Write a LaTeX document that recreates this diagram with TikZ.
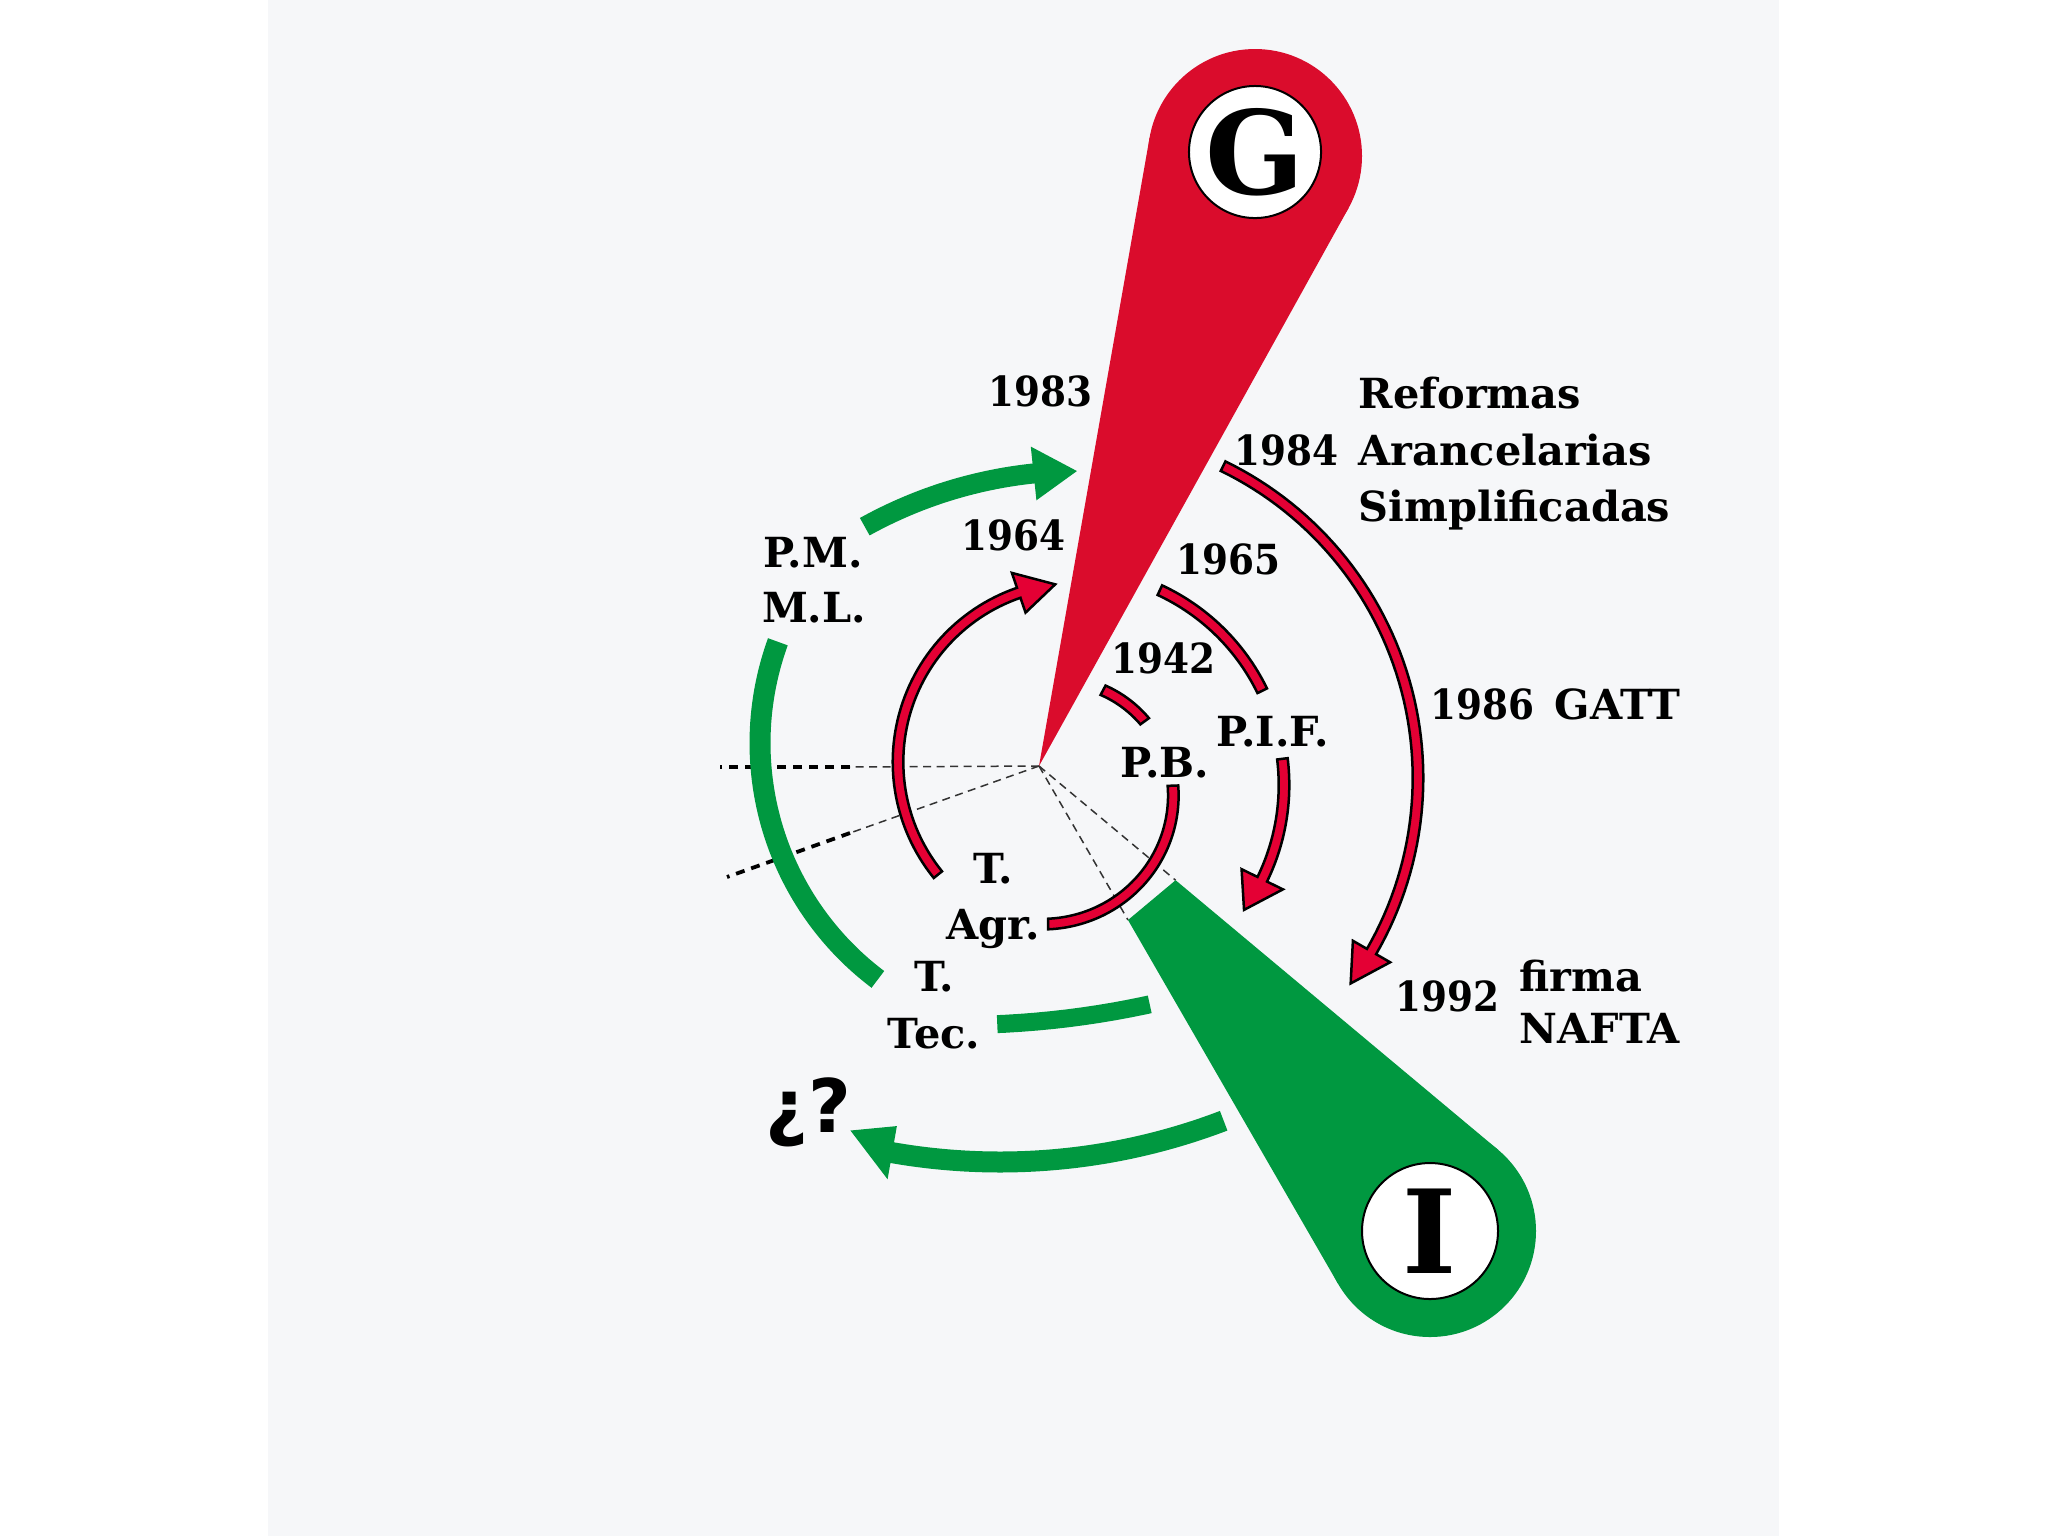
\documentclass[tikz,border=0pt]{standalone}
\usepackage{fontspec}
\setmainfont{DejaVu Serif}
\newfontfamily\numfont[FakeStretch=0.9]{DejaVu Serif}
\newfontfamily\qfont{DejaVu Sans}
\definecolor{gred}{RGB}{218,12,44}
\definecolor{rred}{RGB}{228,0,52}
\definecolor{ggreen}{RGB}{0,152,64}
\definecolor{panel}{RGB}{246,247,249}
\def\hH{20}\def\hD{10}\def\hE{0}
% ribbon along a (spiral) arc: style, cx, cy, r0, r1, a, b, half width
\newcommand{\rib}[8]{%
 \path[#1] plot[domain=#6:#7,samples=60,variable=\t] ({#2+(#4+(#5-#4)*(\t-(#6))/((#7)-(#6))+#8)*cos(\t)},{#3+(#4+(#5-#4)*(\t-(#6))/((#7)-(#6))+#8)*sin(\t)}) -- plot[domain=#7:#6,samples=60,variable=\t] ({#2+(#4+(#5-#4)*(\t-(#6))/((#7)-(#6))-#8)*cos(\t)},{#3+(#4+(#5-#4)*(\t-(#6))/((#7)-(#6))-#8)*sin(\t)}) -- cycle;}
\newcommand{\ribarrow}[8]{%
 \path[#1] plot[domain=#6:#7,samples=60,variable=\t] ({#2+(#4+(#5-#4)*(\t-(#6))/((#7)-(#6))+#8)*cos(\t)},{#3+(#4+(#5-#4)*(\t-(#6))/((#7)-(#6))+#8)*sin(\t)}) -- ({#2+(#5+\hH)*cos(#7)},{#3+(#5+\hH)*sin(#7)}) -- ({#2+(#5-\hE)*cos(#7+\hD)},{#3+(#5-\hE)*sin(#7+\hD)}) -- ({#2+(#5-\hH)*cos(#7)},{#3+(#5-\hH)*sin(#7)}) -- plot[domain=#7:#6,samples=60,variable=\t] ({#2+(#4+(#5-#4)*(\t-(#6))/((#7)-(#6))-#8)*cos(\t)},{#3+(#4+(#5-#4)*(\t-(#6))/((#7)-(#6))-#8)*sin(\t)}) -- cycle;}
\begin{document}
\begin{tikzpicture}[x=0.1mm,y=-0.1mm,
  lab/.style={font=\bfseries\fontsize{11.8}{14}\selectfont,inner sep=0pt},
  num/.style={font=\numfont\bfseries\fontsize{11.8}{14}\selectfont,inner sep=0pt},
  redrib/.style={fill=rred,draw=black,line width=0.25mm},
  greenrib/.style={fill=ggreen,draw=none},
  thindash/.style={draw=black!80,line width=0.15mm,dash pattern=on 0.8mm off 0.55mm},
  thickdash/.style={draw=black,line width=0.38mm,dash pattern=on 0.9mm off 0.7mm},
  badge/.style={circle,draw=black,line width=0.2mm,fill=white,inner sep=0pt,font=\bfseries\fontsize{33}{33}\selectfont}]
\useasboundingbox (0,0) rectangle (2048,1536);
\fill[white] (0,0) rectangle (2048,1536);
\fill[panel] (268,0) rectangle (1779,1536);
% dashed rays
\coordinate (ctr) at (1039,766);
\coordinate (d1m) at (850,767);
\coordinate (d1) at (720,767);
\coordinate (d2m) at (850,833);
\coordinate (d2) at (727,877);
\coordinate (d3) at (1128,920);
\coordinate (d4) at (1175.6,880.2);
\draw[thindash] (ctr) -- (d1m);
\draw[thickdash] (d1m) -- (d1);
\draw[thindash] (ctr) -- (d2m);
\draw[thickdash] (d2m) -- (d2);
\draw[thindash] (ctr) -- (d3);
\draw[thindash] (ctr) -- (d4);
% G wedge
\fill[gred] (ctr) -- (1149.6,137.5) -- (1348.6,207.9) -- cycle;
\fill[gred] (1255,156) circle[radius=107];
% I wedge
\fill[ggreen] (d3) -- (1338.2,1284) -- (1498,1149.7) -- (d4) -- cycle;
\fill[ggreen] (1430,1231) circle[radius=106];
% red spiral
\rib{redrib}{1050}{790}{113}{117}{-62}{-36}{5.3}
\rib{redrib}{1048}{790}{125}{134}{-2}{90}{5.3}
\def\hH{21}\def\hD{12}\def\hE{0}
\ribarrow{redrib}{1077}{762}{179}{179}{141}{251}{5.3}
\rib{redrib}{1069}{785}{215}{215}{-65}{-26}{5.3}
\def\hH{23}\def\hD{9.5}\def\hE{0}
\ribarrow{redrib}{1069}{785}{215}{215}{-7}{26}{5.3}
\def\hH{21.5}\def\hD{6.3}\def\hE{0}
\ribarrow{redrib}{1071}{778}{347}{347}{-64}{30}{5.3}
% green spiral
\rib{greenrib}{1056}{743}{296}{296}{127}{200}{10.5}
\def\hH{27}\def\hD{5.6}\def\hE{0}
\ribarrow{greenrib}{1080}{915}{444}{444}{241}{264}{10}
\rib{greenrib}{958}{125}{900}{900}{77.7}{87.5}{9}
\def\hH{27}\def\hD{4.2}\def\hE{13}
\ribarrow{greenrib}{1000}{535}{627}{627}{69.1}{99.9}{10.5}
% badges
\node[badge,minimum size=13mm] (G) at (1255,152) {G};
\node[badge,minimum size=13.6mm] (I) at (1430,1231) {I};
% labels
\node[num,anchor=base] (t1983) at (1040,406) {1983};
\node[num,anchor=base] (t1964) at (1013,550) {1964};
\node[lab,anchor=base] (tpm) at (813,567) {P.M.};
\node[lab,anchor=base] (tml) at (814,622) {M.L.};
\node[num,anchor=base] (t1942) at (1163,673) {1942};
\node[num,anchor=base] (t1965) at (1228,574) {1965};
\node[lab,anchor=base] (tpb) at (1165,777) {P.B.};
\node[lab,anchor=base] (tpif) at (1273,746) {P.I.F.};
\node[num,anchor=base] (t1984) at (1286,465) {1984};
\node[lab,anchor=base west] (tref) at (1358,408) {Reformas};
\node[lab,anchor=base west] (tara) at (1358,465) {Arancelarias};
\node[lab,anchor=base west] (tsim) at (1358,521) {Simplificadas};
\node[num,anchor=base west] (t1986) at (1430,719) {1986};
\node[lab,anchor=base west] (tgatt) at (1554,719) {GATT};
\node[num,anchor=base] (t1992) at (1447,1011) {1992};
\node[lab,anchor=base west] (tfirma) at (1519,991) {firma};
\node[lab,anchor=base west] (tnafta) at (1519,1043) {NAFTA};
\node[lab,anchor=base] (tT1) at (993,883) {T.};
\node[lab,anchor=base] (tagr) at (993,939) {Agr.};
\node[lab,anchor=base] (tT2) at (934,991) {T.};
\node[lab,anchor=base] (ttec) at (934,1048) {Tec.};
\node[font=\qfont\bfseries\fontsize{21}{21}\selectfont,inner sep=0pt] (tq) at (808,1112) {¿?};
\end{tikzpicture}
\end{document}
